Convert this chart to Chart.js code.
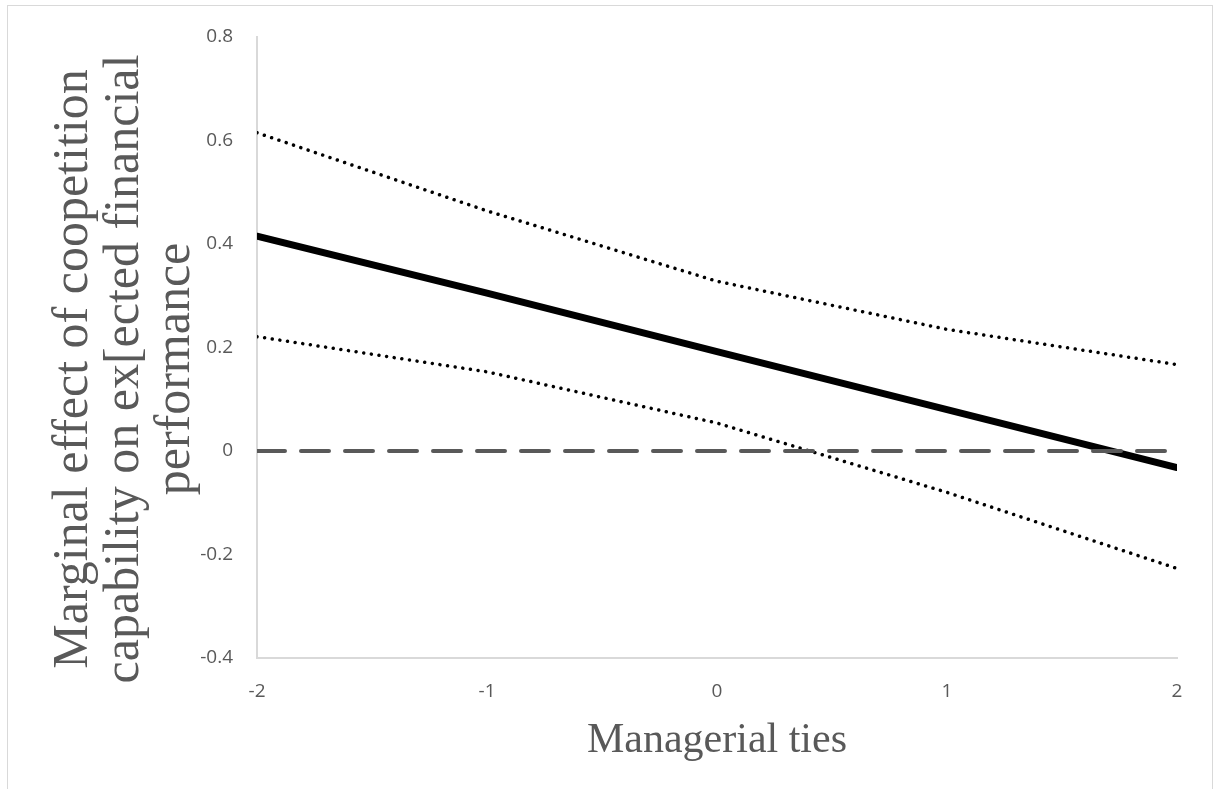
<!DOCTYPE html>
<html>
<head>
<meta charset="utf-8">
<script src="https://cdn.jsdelivr.net/npm/chart.js@4/dist/chart.umd.min.js"></script>
<style>
html, body { margin:0; padding:0; background:#fff; overflow:hidden; }
#wrap { position:relative; width:1214px; height:789px; }
#frame { position:absolute; left:7px; top:5px; width:1206px; height:800px; border:1px solid #d9d9d9; box-sizing:border-box; pointer-events:none; }
canvas { position:absolute; left:0; top:0; }
</style>
</head>
<body>
<div id="wrap">
<canvas id="chart" width="1214" height="789"></canvas>
<div id="frame"></div>
</div>
<script>
// Managerial ties values
const ties = [-2, -1, 0, 1, 2];

// marginal effect and its confidence band
const effect = [0.415, 0.305, 0.192, 0.080, -0.032];
const upperBound = [0.615, 0.464, 0.328, 0.235, 0.167];
const lowerBound = [0.221, 0.153, 0.054, -0.080, -0.227];
const zeroLine = [0, 0, 0, 0, 0];

const xTicks = [-2, -1, 0, 1, 2];
const yTicks = [-0.4, -0.2, 0, 0.2, 0.4, 0.6, 0.8];

const yTitle = ["Marginal effect of coopetition", "capability on ex[ected financial", "performance"];
const xTitle = "Managerial ties";

const grey = "#595959";
const axisGrey = "#d9d9d9";

function pts(vals){
  return ties.map((t,i)=>({x:t, y:vals[i]}));
}

// y title drawn by hand so it can sit a little lower than the axis middle
const yTitlePlugin = {
  id:"yTitle",
  afterDraw(chart){
    const ctx = chart.ctx;
    ctx.save();
    ctx.translate(0, 369);
    ctx.rotate(-Math.PI/2);
    ctx.fillStyle = grey;
    ctx.font = "50px 'Liberation Serif'";
    ctx.textAlign = "center";
    ctx.textBaseline = "middle";
    yTitle.forEach((line,i)=>{
      ctx.fillText(line, 0, 74 + i*51);
    });
    ctx.restore();
  }
};

new Chart(document.getElementById("chart"),{
  type:"line",
  data:{
    datasets:[
      {
        data:pts(zeroLine),
        borderColor:grey,
        borderWidth:4,
        borderDash:[28,16],
        borderCapStyle:"round",
        pointRadius:0
      },
      {
        data:pts(upperBound),
        borderColor:"#000",
        borderWidth:3.5,
        borderDash:[0.01,7.7],
        borderCapStyle:"round",
        pointRadius:0
      },
      {
        data:pts(lowerBound),
        borderColor:"#000",
        borderWidth:3.5,
        borderDash:[0.01,7.7],
        borderCapStyle:"round",
        pointRadius:0
      },
      {
        data:pts(effect),
        borderColor:"#000",
        borderWidth:7,
        borderCapStyle:"round",
        pointRadius:0
      }
    ]
  },
  options:{
    responsive:false,
    animation:false,
    layout:{ padding:{ top:37, right:37, bottom:0, left:20 } },
    plugins:{ legend:{display:false}, tooltip:{enabled:false} },
    scales:{
      x:{
        type:"linear",
        min:-2, max:2,
        afterBuildTicks:s=>{ s.ticks = xTicks.map(v=>({value:v})); },
        afterFit:s=>{ s.height = 131; },
        grid:{ display:false, drawTicks:false },
        border:{ display:true, color:axisGrey, width:2 },
        ticks:{ color:grey, padding:22, font:{ family:"Open Sans", size:19 }, callback:v=>String(v) },
        title:{ display:true, text:xTitle, color:grey, padding:{top:0,bottom:23}, font:{ family:"Liberation Serif", size:42, lineHeight:1.2 } }
      },
      y:{
        min:-0.4, max:0.8,
        afterBuildTicks:s=>{ s.ticks = yTicks.map(v=>({value:v})); },
        afterFit:s=>{ s.width = 237; },
        grid:{ display:false, drawTicks:false },
        border:{ display:true, color:axisGrey, width:2 },
        ticks:{ color:grey, padding:24, font:{ family:"Open Sans", size:19 }, callback:v=>String(Math.round(v*10)/10) }
      }
    }
  },
  plugins:[yTitlePlugin]
});
</script>
</body>
</html>
